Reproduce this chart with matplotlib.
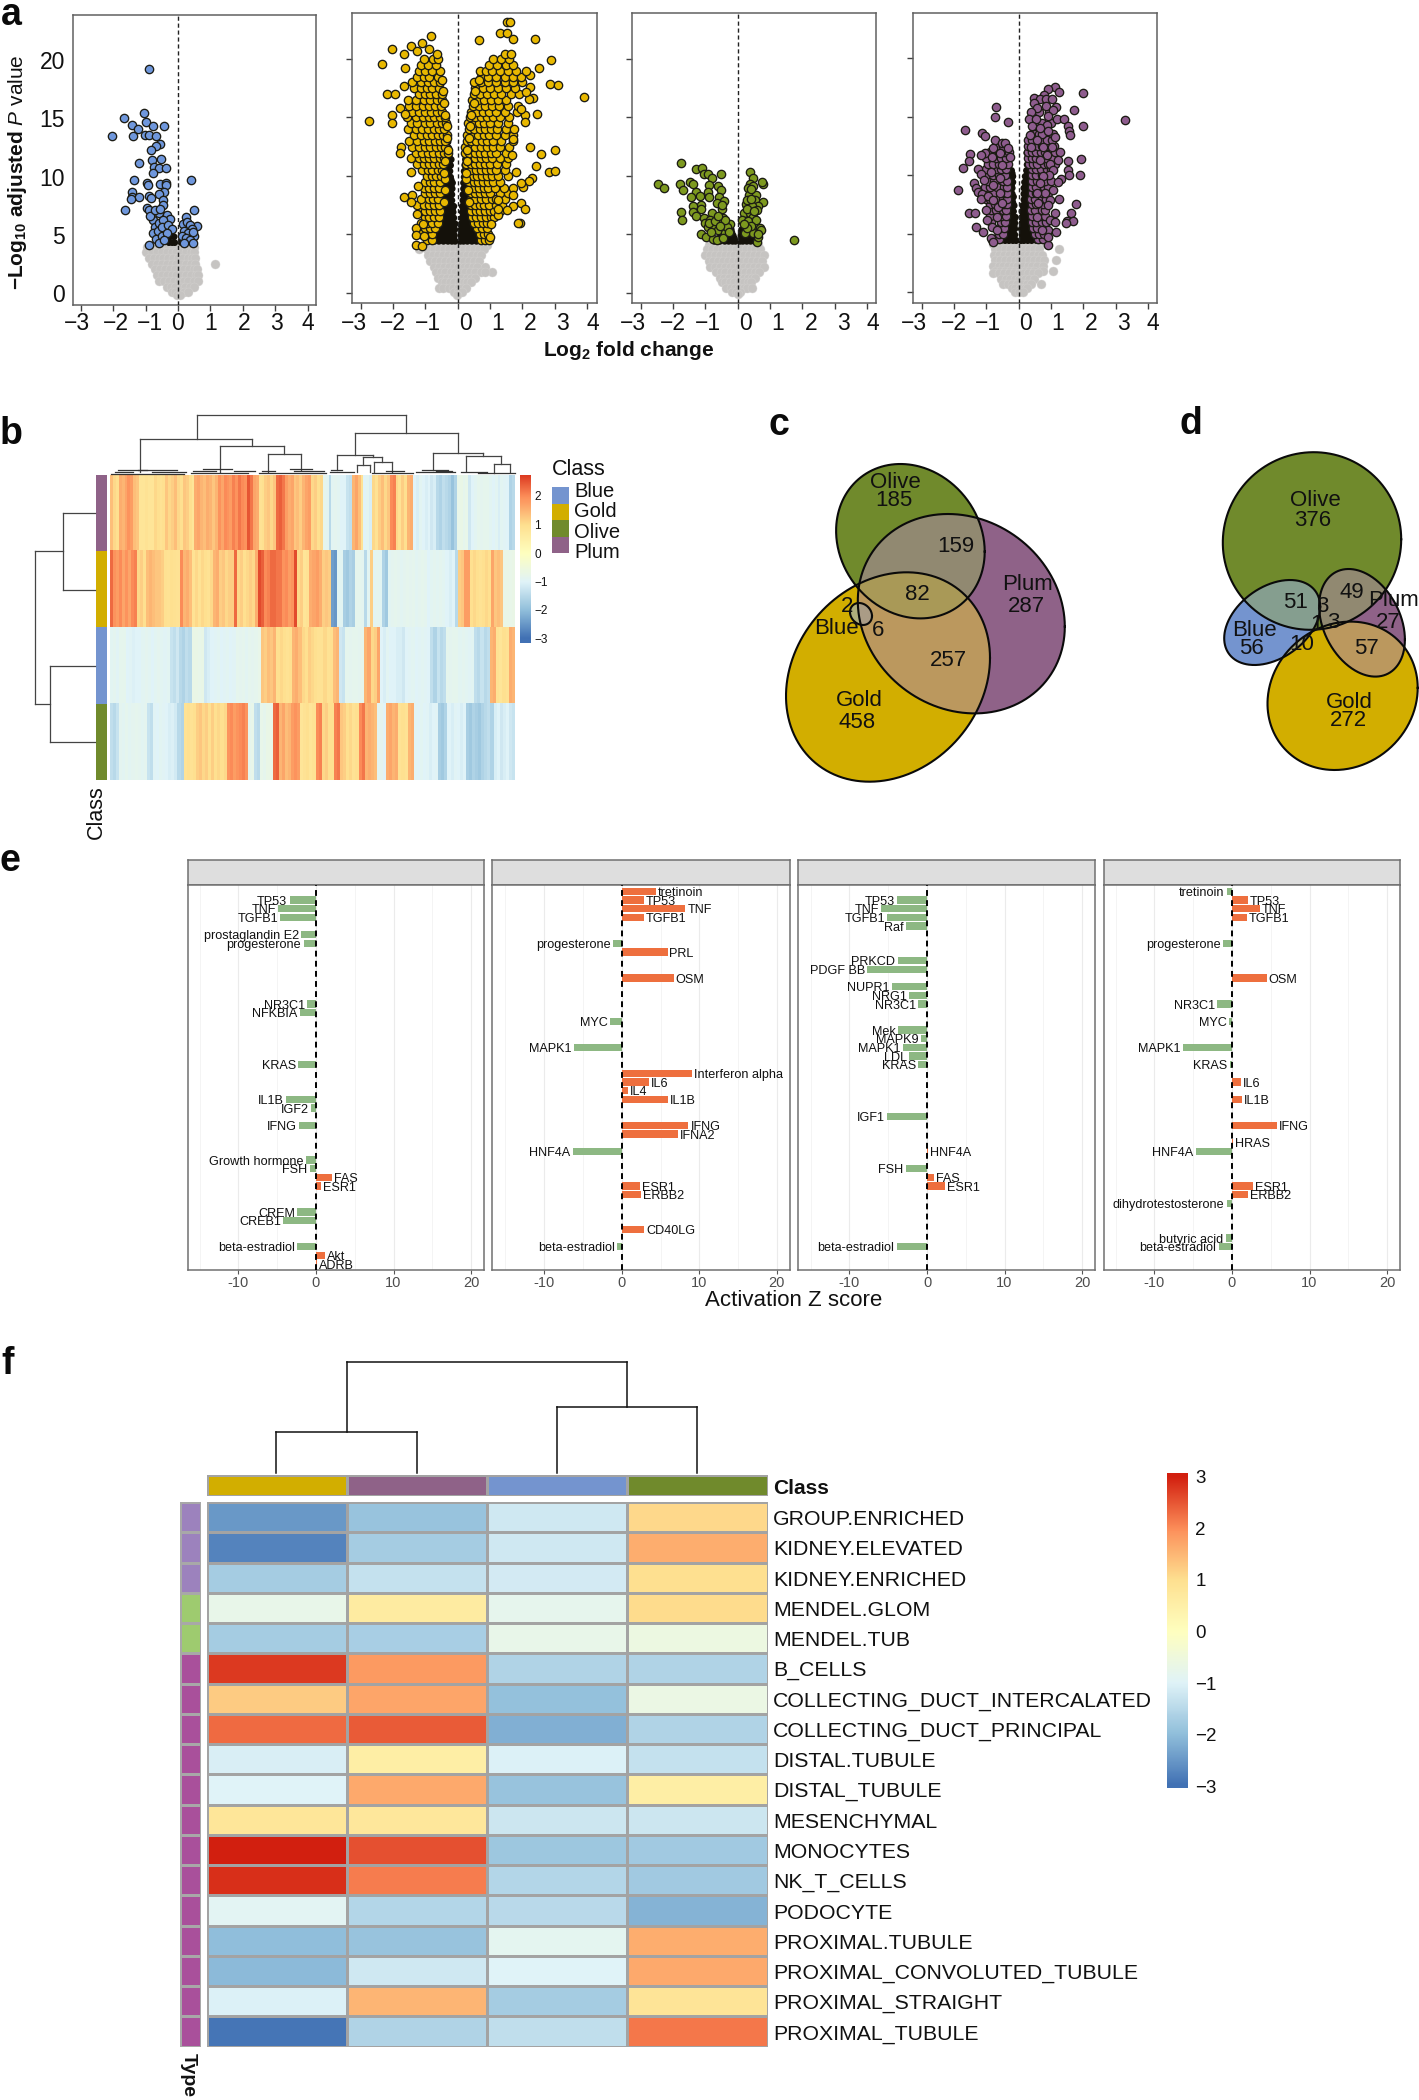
import numpy as np
import matplotlib
matplotlib.use('Agg')
import matplotlib.pyplot as plt
from matplotlib.colors import LinearSegmentedColormap, ListedColormap, to_rgb

W, H = 1419, 2100
plt.rcParams['font.family'] = ['Liberation Sans', 'DejaVu Sans']
plt.rcParams['mathtext.fontset'] = 'custom'
plt.rcParams['mathtext.rm'] = 'Liberation Sans'
plt.rcParams['mathtext.bf'] = 'Liberation Sans:bold'
plt.rcParams['mathtext.it'] = 'Liberation Sans:italic'

C_BLUE, C_GOLD, C_OLIVE, C_PLUM = '#7494cf', '#d2ae00', '#708a2c', '#8f6288'
MINUS = '\u2212'

# ---------- panel a: outlying points (log2 fold change, -log10 p) ----------
blue_pts = [(-.89,19.25),(-1.06,15.5),(-1.66,15.05),(-1.0,14.75),(-1.42,14.5),(-.76,14.4),(-.42,14.4),(-1.23,14.1),(-2.04,13.5),(-1.39,13.5),(-1.03,13.6),(-.89,13.6),(-.68,13.5),(-.55,12.8),(-.68,12.67),(-.82,12.3),(-.54,11.6),(-.79,11.5),(-1.2,11.25),(-.75,10.85),(-.58,10.75),(-.37,10.75),(-.78,10.4),(.41,9.76),(-1.37,9.8),(-.96,9.5),(-.93,9.3),(-.57,9.4),(-.37,9.5),(-.37,9.3),(-1.43,8.76),(-.44,8.76),(-1.43,8.3),(-1.2,8.33),(-1.46,8.1),(-.89,8.4),(-.82,8.2),(-.6,8.6),(-.47,8.05),(-1.64,7.2),(.5,7.2),(-.96,7.4),(-.89,7.2),(-.47,7.6),(-.76,6.3),(.24,6.55),(.6,5.8),(.48,5.0),(-.89,4.2),(-.6,6.9),
 (-.85,6.7),(-.7,7.2),(-.55,7.3),(-.35,6.8),(-.25,6.4),(-.72,5.7),(-.6,6.1),(-.45,6.3),(-.78,5.2),(-.62,5.4),(-.48,5.7),(-.3,5.9),(-.2,5.6),(-.68,4.7),(-.5,5.0),(-.35,5.2),(-.6,4.4),(-.42,4.6),(.15,6.0),(.28,6.2),(.36,5.9),(.42,5.6),(.2,5.4),(.32,5.2),(.45,5.3),(.12,5.0),(.25,4.8),(.38,4.6),(.45,4.4),(.18,4.4)]
blue_core = [(-.28,4.4),(-.18,4.4),(-.1,4.4),(-.24,4.9),(-.12,4.9),(-.18,5.4),(.1,4.4),(.18,4.5),(.14,4.9)]
blue_grey = [(4.0,[-.95,-.75,-.6,-.45,-.3,-.15,.05,.2,.35,.5]),(3.6,[-1.0,-.8,-.65,-.5,-.35,-.2,-.05,.1,.25,.4,.5]),(3.1,[-.9,-.75,-.6,-.45,-.3,-.15,0,.15,.3,.42,.52]),(2.6,[-.8,-.65,-.5,-.35,-.2,-.05,.1,.25,.4,.52,1.13]),(2.1,[-.7,-.55,-.4,-.25,-.1,.05,.2,.35,.5,.6]),(1.6,[-.65,-.5,-.35,-.2,-.05,.1,.25,.4,.55,.62]),(1.1,[-.58,-.42,-.28,-.12,.02,.18,.32,.48,.62]),(.6,[-.35,-.22,-.08,.08,.22,.38,.5]),(.2,[-.2,-.08,.05,.18,.3]),(-.1,[-.02,.06])]

gold_pts = [(1.54,23.17),(1.62,23.17),(1.32,22.2),(1.53,22.25),(1.72,21.7),(2.4,21.74),(.67,21.6),(-.82,22.0),(-1.1,21.4),(-1.44,21.1),(-2.02,20.9),(-.89,20.9),(-1.26,20.7),(-1.65,20.4),(-.65,20.4),(-2.34,19.6),(-1.62,19.2),(2.89,19.9),(2.53,19.2),(2.84,17.9),(3.09,17.8),(3.9,16.75),(-2.75,14.7),(-2.2,17.0),(-1.93,17.0),(-2.02,15.2),(-2.02,14.5),(-1.77,15.8),(-1.65,17.7),(-1.63,15.3),(-1.76,12.5),(-1.78,12.0),(-1.45,10.3),(-1.66,8.2),(-1.41,8.4),(-1.43,7.8),(-1.23,9.1),(-1.25,6.7),(-1.3,5.5),(-1.3,4.9),(-1.29,4.1),(-1.09,4.0),(-1.03,4.85),(-1.08,5.9),(2.24,12.5),(2.59,11.9),(3.0,12.2),(2.43,10.85),(2.82,10.3),(3.0,10.4),(2.31,9.85),(2.2,9.6),(2.03,9.04),(1.96,9.4),(1.71,9.0),(1.72,8.4),(1.24,7.9),(1.95,7.7),(2.09,7.2),(1.72,7.4),(1.54,7.05),(1.92,6.0),(1.87,6.0),(1.25,6.65),(1.24,7.2),(1.03,5.9),(1.0,4.75),(2.45,15.3),(2.32,16.7),(2.19,16.6),(2.24,17.6),(2.1,17.2),(2.24,18.6),(2.12,18.95),(2.08,15.2),(2.08,14.6),(1.97,15.75),(1.8,10.3),(1.67,11.8),(1.72,13.2)]
gold_body = [(4.5,[-.95,-.8,.72,.85,.98]),(5.0,[-1.15,-.95,-.78,.68,.8,.95]),(5.5,[-1.0,-.85,-.7,.6,.75,.9]),(6.0,[-1.12,-.95,-.78,-.62,.5,.62,.78,.92]),(6.5,[-1.02,-.88,-.72,-.58,.45,.58,.72,.88,1.02,1.12]),(7.0,[-1.15,-1.0,-.85,-.7,-.55,.42,.56,.7,.85,1.0,1.12,1.3]),(7.5,[-1.25,-1.05,-.9,-.72,-.58,.42,.55,.68,.82,.98,1.18,1.38]),(8.0,[-1.12,-.9,-.75,-.6,.4,.55,.72,.88,1.05,1.2,1.45]),(8.5,[-1.0,-.85,-.7,-.55,.4,.52,.68,.85,1.0,1.3,1.55]),(9.0,[-1.05,-.9,-.74,-.58,.38,.5,.65,.8,.95,1.15,1.42]),(9.5,[-1.0,-.85,-.72,-.56,.35,.5,.62,.78,.95,1.1,1.3]),(10.0,[-.95,-.8,-.68,-.52,.32,.46,.6,.75,.9,1.05,1.25,1.55]),
 (10.5,[-1.1,-.92,-.78,-.62,-.48,.28,.42,.58,.72,.88,1.02,1.2,1.45]),(11.0,[-1.25,-1.05,-.88,-.72,-.58,-.45,.25,.4,.55,.7,.85,1.0,1.22,1.5]),(11.5,[-1.45,-1.2,-1.05,-.88,-.72,-.55,-.42,.28,.4,.55,.72,.88,1.05,1.3,1.55]),(12.0,[-1.3,-1.1,-.92,-.75,-.58,-.42,-.3,.22,.36,.52,.68,.85,1.02,1.2,1.5]),(12.5,[-1.4,-1.2,-1.02,-.85,-.68,-.52,-.38,.24,.38,.55,.72,.9,1.08,1.3,1.6]),(13.0,[-1.5,-1.25,-1.05,-.88,-.7,-.55,-.4,.28,.42,.58,.75,.92,1.1,1.35,1.72]),(13.5,[-1.35,-1.15,-.95,-.78,-.62,-.45,-.34,.3,.45,.62,.8,.98,1.18,1.45,1.7]),(14.0,[-1.55,-1.3,-1.1,-.92,-.74,-.58,-.42,.34,.5,.68,.85,1.02,1.22,1.5,1.75]),(14.5,[-1.45,-1.25,-1.02,-.85,-.65,-.48,-.35,.33,.48,.65,.82,1.0,1.25,1.55]),(15.0,[-1.58,-1.3,-1.08,-.9,-.72,-.55,-.4,.38,.55,.72,.9,1.1,1.3,1.6]),
 (15.5,[-1.4,-1.2,-1.0,-.82,-.65,-.48,.42,.6,.78,.98,1.2,1.45,1.82]),(16.0,[-1.5,-1.28,-1.08,-.9,-.7,-.52,.48,.65,.85,1.05,1.28,1.55,1.85]),(16.5,[-1.55,-1.3,-1.05,-.85,-.65,-.48,.45,.62,.82,1.02,1.25,1.5]),(17.0,[-1.2,-1.0,-.85,-.68,-.5,.5,.7,.9,1.12,1.35,1.65,1.9]),(17.5,[-1.35,-1.12,-.95,-.78,-.58,.55,.78,1.0,1.25,1.5,1.78]),(18.0,[-1.4,-1.15,-.92,-.72,-.55,.5,.72,.95,1.2,1.45,1.72,2.0]),(18.5,[-1.25,-1.05,-.88,-.62,.72,.95,1.2,1.45,1.7,1.95]),(19.0,[-1.2,-1.0,-.8,-.55,.68,.88,1.05,1.3,1.55,1.8]),(19.5,[-1.15,-.92,-.68,.98,1.22,1.48,1.72]),(20.0,[-1.05,-.75,-.62,1.1,1.35,1.6]),(20.4,[1.45,1.65]),
 (7.75,[-.42,.34]),(8.75,[-.4,.32]),(9.75,[-.38,.26]),(10.25,[-.42,.25]),(11.25,[-.38,.3]),(12.25,[-.3,.3]),(13.25,[-.32,.34]),(14.25,[-.34,.38]),(15.25,[-.38,.42]),(16.25,[-.42,.5]),(17.25,[-.45,.55]),(18.25,[-.5,.65])]
gold_core = [(4.4,[-.72,-.58,-.44,-.3,-.18,-.08,.08,.18,.3,.44,.58,.72]),(4.9,[-.62,-.48,-.34,-.22,-.1,.1,.2,.32,.46,.6]),(5.4,[-.56,-.44,-.3,-.18,-.09,.1,.2,.34,.48]),(5.9,[-.52,-.4,-.28,-.16,-.08,.11,.22,.34,.46]),(6.4,[-.48,-.36,-.24,-.12,.13,.24,.36]),(6.9,[-.48,-.36,-.24,-.14,.14,.25,.38]),(7.4,[-.44,-.32,-.2,-.12,.14,.26,.36]),(7.9,[-.42,-.3,-.18,.16,.26,.36]),(8.4,[-.42,-.3,-.18,.16,.26,.34]),(8.9,[-.4,-.28,-.17,.18,.28]),(9.4,[-.36,-.24,-.16,.18,.28]),(9.9,[-.35,-.22,.2]),(10.4,[-.36,-.24,.2]),(10.9,[-.32,-.22,.22]),(11.4,[-.3,-.2,.24]),(11.9,[-.28,.28]),(12.4,[-.28]),(12.9,[-.3]),
 (4.65,[-.65,-.5,-.36,-.24,-.12,.12,.24,.38,.52,.66]),(5.15,[-.56,-.4,-.26,-.14,.13,.26,.4,.54]),(5.65,[-.5,-.36,-.22,-.12,.14,.27,.4]),(6.15,[-.44,-.3,-.18,.16,.28,.4]),(6.65,[-.42,-.3,-.18,.18,.3]),(7.15,[-.4,-.26,-.16,.18,.3]),(7.65,[-.36,-.24,.2,.32]),(8.15,[-.36,-.24,.2,.3]),(8.65,[-.34,-.22,.22,.3]),(9.15,[-.3,-.2,.22]),(9.65,[-.3,-.2,.24]),(10.15,[-.3,.24]),(10.65,[-.28,.26]),(11.15,[-.26]),(11.65,[-.26])]
gold_grey = [(4.1,[-.75,-.6,-.45,-.3,-.15,.02,.18,.32,.48,.62,.78,.92]),(3.7,[-1.2,-.95,-.72,-.58,-.42,-.28,-.12,.05,.2,.35,.5,.65,.8]),(3.2,[-.92,-.75,-.6,-.45,-.3,-.15,0,.15,.3,.45,.6,.72]),(2.7,[-.85,-.7,-.55,-.4,-.25,-.1,.05,.2,.35,.5,.65]),(2.2,[-.72,-.58,-.42,-.28,-.12,.02,.18,.32,.48,.6,.85]),(1.8,[-.68,-.52,-.38,-.22,-.08,.08,.22,.38,.52,.72,1.05,.85]),(1.3,[-.62,-.48,-.32,-.18,-.02,.12,.28,.42,.52]),(.9,[-.5,-.38,-.25,-.1,.05,.2,.3,.42]),(.4,[-.58,-.45,-.28,-.15,0,.12,.25]),(.1,[-.1,0,.12]),(-.2,[-.02])]

olive_pts = [(-1.74,11.1),(-1.3,10.6),(-1.09,10.65),(-1.05,10.2),(-.91,10.2),(-.52,10.2),(-2.46,9.3),(-2.27,9.0),(-1.78,9.3),(-1.48,9.45),(-1.37,9.3),(-.78,9.8),(-.89,9.2),(-1.68,8.8),(-1.29,8.65),(-.62,9.15),(-.53,8.8),(-1.43,8.2),(-1.16,8.3),(-.91,8.65),(-.89,8.2),(-.58,8.2),(-.42,7.85),(-.65,7.7),(-1.13,7.5),(-1.39,7.4),(-1.12,7.15),(-1.37,6.95),(-1.3,6.6),(-1.74,6.9),(-1.72,6.25),(-.78,6.8),(-.49,7.15),(-1.03,6.4),(-1.01,6.0),(-.86,6.2),(-.44,6.4),(-.93,5.65),(-.73,5.5),(-.24,5.85),(-1.13,5.0),(-.99,4.8),(-.77,4.6),(-.49,6.0),(-.6,5.4),(-.39,5.1),(-.34,5.65),(-.39,6.2),(-.65,4.5),(-.44,4.65),(-.9,6.0),(-.7,6.1),(-.55,5.7),(-.6,6.6),(-.82,5.2),(-.5,7.5),(-.28,5.2),
 (.38,10.35),(.48,9.8),(.77,9.3),(.74,9.45),(.38,9.3),(.31,8.95),(.48,9.1),(.35,8.4),(.56,8.4),(.54,7.95),(.79,7.8),(.25,7.6),(.64,7.45),(.43,7.4),(.59,7.1),(.18,6.8),(.38,6.8),(.48,6.5),(.14,6.25),(.33,6.1),(.54,5.65),(.69,5.55),(.72,5.35),(.48,5.1),(.61,4.35),(.23,5.1),(.64,4.8),(1.75,4.5),(.42,8.9),(.3,7.9),(.42,8.0),(.28,7.2),(.5,7.0),(.58,6.2),(.62,5.0),(.42,5.7),(.3,5.5),(.2,5.9)]
olive_core = [(4.4,[-.72,-.55,-.4,-.28,-.16,-.07,.07,.16,.28,.4,.52]),(4.9,[-.5,-.38,-.26,-.14,.1,.2,.32,.44]),(5.4,[-.42,-.3,-.2,.12,.22,.34]),(5.9,[-.34,.16,.26,.36]),(6.4,[.2,.3]),(6.9,[.22,.3]),(7.4,[.25]),(4.65,[-.6,-.45,-.32,-.2,-.1,.12,.25,.38,.5]),(5.15,[-.44,-.3,-.18,.15,.28,.4]),(5.65,[-.36,-.24,.2,.32])]
olive_grey = [(4.1,[-.9,-.75,-.6,-.45,-.3,-.15,.02,.18,.32,.48,.62]),(3.7,[-.95,-.8,-.65,-.5,-.35,-.2,-.05,.1,.25,.4,.55,.7]),(3.2,[-1.02,-.85,-.7,-.55,-.4,-.25,-.1,.05,.2,.35,.5,.65,.8]),(2.7,[-.9,-.75,-.6,-.45,-.3,-.15,0,.15,.3,.45,.6,.75]),(2.2,[-.85,-.7,-.55,-.4,-.25,-.1,.05,.2,.35,.5,.65,.82]),(1.8,[-.68,-.52,-.38,-.22,-.08,.08,.22,.38,.52,.65]),(1.3,[-.55,-.42,-.28,-.12,.02,.18,.32,.45,.55]),(.9,[-.5,-.38,-.25,-.1,.05,.2,.32,.42]),(.4,[-.35,-.22,-.08,.05,.2,.3,.45]),(.1,[-.18,-.05,.08]),(-.15,[0])]

plum_pts = [(3.29,14.7),(2.0,17.0),(1.72,15.6),(1.12,17.55),(1.25,17.1),(.92,17.4),(.79,16.9),(.48,16.6),(.66,16.5),(.85,16.55),(1.02,16.5),(.48,16.2),(.58,15.75),(.85,15.9),(1.15,15.8),(.38,15.4),(1.07,15.55),(.92,15.1),(.32,14.85),(.53,14.85),(1.18,14.8),(1.41,14.8),(1.54,14.25),(1.99,14.2),(1.55,13.8),(1.59,13.45),(.4,14.2),(.87,14.3),(.66,14.0),(.35,13.45),(.92,13.75),(1.13,13.25),(.56,13.0),(1.02,12.45),(1.28,12.0),(.38,12.45),(.76,12.45),(.87,11.75),(1.21,11.3),(1.54,11.2),(1.94,11.35),(.97,11.0),(.66,11.3),(1.54,10.45),(1.07,10.45),(1.56,10.0),(1.9,10.0),(.95,10.0),(1.31,9.7),(1.23,9.4),(.76,9.9),(.66,9.3),(1.07,8.7),(.81,8.45),(1.24,8.0),(.97,7.9),(1.78,7.5),(1.61,6.75),(.9,7.45),(1.48,6.1),(1.67,6.05),(1.46,5.95),(1.12,6.75),(.97,6.15),(1.12,6.0),(.9,5.3),(1.15,5.1),(.92,4.0),(.92,4.75),(.71,5.3),(.56,6.45),(.61,7.6),(.56,8.45),
 (-.69,15.8),(-.73,15.0),(-.32,14.55),(-1.66,13.85),(-1.15,13.65),(-1.04,13.35),(-.53,12.75),(-.42,12.75),(-.78,12.3),(-.32,12.3),(-1.5,11.8),(-1.04,11.9),(-1.16,11.7),(-1.54,11.2),(-1.73,10.65),(-.84,11.6),(-.58,11.9),(-.27,11.6),(-1.25,10.55),(-1.16,10.1),(-.86,10.3),(-.53,10.9),(-1.07,9.6),(-1.39,9.35),(-1.33,8.9),(-1.87,8.7),(-1.27,8.6),(-1.14,8.4),(-1.16,8.0),(-.94,8.2),(-.78,9.2),(-.58,9.75),(-1.01,7.0),(-1.53,6.8),(-1.34,6.8),(-.99,6.2),(-1.31,5.6),(-1.1,5.1),(-.86,4.6),(-.81,4.3),(-.63,7.3),(-.78,7.9),(-.84,5.6),(-.68,5.3),(-.68,6.45),(-.58,8.45),(-.53,7.6)]
plum_body = [(4.5,[-.72,-.6,.6,.74]),(5.0,[-.62,-.5,.5,.62,.78]),(5.5,[-.6,-.45,.44,.58,.8]),(6.0,[-.85,-.55,-.42,.42,.55,.72,.85]),(6.5,[-.9,-.55,-.4,.4,.7,.82]),(7.0,[-.85,-.7,-.5,-.38,.38,.5,.72,.8]),(7.5,[-.9,-.72,-.45,-.36,.42,.52,.74]),(8.0,[-1.0,-.88,-.65,-.48,-.35,.38,.5,.72,.85]),(8.5,[-.95,-.78,-.45,-.35,.4,.52,.72,.92]),(9.0,[-1.05,-.88,-.68,-.45,-.35,.42,.55,.78,.92]),(9.5,[-.95,-.75,-.48,-.36,.42,.58,.82,1.0]),(10.0,[-1.0,-.78,-.62,-.42,.4,.55,.72,.85]),(10.5,[-1.02,-.7,-.55,-.38,.4,.52,.68,.88,1.0]),(11.0,[-.95,-.78,-.62,-.45,-.32,.32,.44,.58,.78,.9,1.12]),(11.5,[-1.0,-.7,-.55,-.4,.3,.42,.55,.7,.85,1.05]),(12.0,[-.9,-.72,-.6,-.45,-.3,.3,.42,.55,.68,.82,1.12]),(12.5,[-.62,-.48,.28,.45,.6,.72,.88,1.1]),(13.0,[-.72,.3,.42,.62,.75,.88,1.02]),(13.5,[.42,.5,.62,.72,1.05]),(14.5,[.5,.72,1.0]),(15.4,[.62,.95])]
plum_core = [(4.4,[-.85,-.7,-.55,-.42,-.3,-.18,-.08,.07,.16,.28,.4,.55,.7,.82]),(4.9,[-.62,-.48,-.36,-.24,-.12,.1,.2,.32,.44,.58]),(5.4,[-.45,-.34,-.22,-.12,.08,.18,.3,.42]),(5.9,[-.42,-.32,-.22,-.12,.1,.2,.32]),(6.4,[-.4,-.3,-.2,-.1,.1,.2,.32]),(6.9,[-.36,-.26,-.16,.1,.2,.32]),(7.4,[-.32,-.24,-.14,.12,.22,.32]),(7.9,[-.3,-.2,.16,.26,.34]),(8.4,[-.3,-.2,.16,.26,.34]),(8.9,[-.28,-.2,.16,.26,.34]),(9.4,[-.27,-.18,.18,.28]),(9.9,[-.26,-.18,.2,.3]),(10.4,[-.22,.24,.32]),(10.9,[.26,.34]),(11.4,[.3]),(11.9,[.25,.35]),(12.4,[.3]),(12.9,[.32]),
 (4.65,[-.7,-.55,-.4,-.26,-.14,.12,.24,.38,.52,.68]),(5.15,[-.5,-.36,-.22,.12,.26,.4]),(5.65,[-.38,-.26,-.14,.14,.26,.36]),(6.15,[-.36,-.24,-.14,.14,.26]),(6.65,[-.32,-.2,.14,.26]),(7.15,[-.3,-.2,.16,.28]),(7.65,[-.28,-.18,.2,.3]),(8.15,[-.26,-.16,.2,.3]),(8.65,[-.24,.2,.3]),(9.15,[-.22,.22,.3]),(9.65,[-.22,.24]),(10.15,[-.2,.28])]
plum_grey = [(4.1,[-.78,-.62,-.48,-.32,-.18,-.04,.12,.28,.42,.58,.7]),(3.7,[-.72,-.58,-.42,-.28,-.12,.02,.18,.32,.48,.62,1.25]),(3.2,[-.75,-.6,-.45,-.3,-.15,0,.15,.3,.45,.6,.72]),(2.7,[-.72,-.58,-.42,-.28,-.12,.02,.18,.32,.48,.62,.78,1.15]),(2.2,[-.78,-.62,-.48,-.32,-.18,-.04,.12,.28,.42,.58,.75]),(1.8,[-.72,-.58,-.42,-.28,-.12,.02,.18,.32,.48,.68,.75,1.05]),(1.6,[-.8,-.6,-.45,-.3,-.15,0,.15,.3,.45,.6]),(1.1,[-.55,-.4,-.28,-.12,.02,.18,.32,.48]),(.7,[-.48,-.32,-.2,-.05,.1,.25,.38,.7]),(.3,[-.22,-.1,.05,.18,.25]),(0,[-.1,.02,.12])]

# ---------- panel b: 4 classes x 135 gene columns ----------
heat_plum = [1.4,1.1,1.0,1.6,1.5,1.7,1.9,1.8,1.4,1.3,.8,.8,.9,.8,.8,1.1,1.0,.9,1.0,1.3,1.1,1.2,1.4,1.1,1.0,1.3,1.2,1.0,.8,1.6,1.7,1.5,1.4,1.6,1.5,1.3,1.5,1.9,1.7,2.0,1.9,1.8,2.1,1.9,2.2,2.0,1.9,2.5,2.2,1.7,1.6,.9,1.0,1.2,1.3,1.1,1.3,2.3,2.4,2.2,1.8,1.6,1.7,1.3,1.4,1.2,1.5,
 1.7,1.8,1.1,1.2,1.0,1.1,-.8,-.9,-1.5,-.9,-.85,-.9,-1.0,-1.0,-1.3,-1.4,1.5,1.7,1.4,.9,-1.0,-.9,-1.1,1.1,.9,1.2,1.4,1.1,1.3,2.0,2.1,1.1,.9,1.2,1.0,1.5,1.6,-1.0,-1.1,-.9,-1.0,-1.1,-1.0,-1.2,-1.1,-1.5,-1.6,-1.4,-1.5,-1.6,-1.9,-1.6,-.75,-.7,-.8,-.75,-1.2,-1.0,-.9,-.8,-.85,-.8,-.8,-.9,-1.0,-.9,-1.1,-.9,-.95,-1.0,-1.6,-1.5]
heat_gold = [2.3,1.9,1.8,2.0,1.7,1.9,1.7,2.0,2.1,1.1,1.2,1.0,1.4,1.5,1.4,1.3,1.3,1.2,.95,.9,1.0,.95,.9,2.0,1.5,1.6,1.4,.9,1.1,.9,1.1,1.0,.9,1.1,1.5,1.6,1.2,1.3,1.1,1.2,1.2,2.3,1.1,1.2,1.0,1.1,1.2,1.1,1.6,2.6,2.4,2.0,2.1,2.3,2.3,2.2,2.2,1.9,2.0,1.8,1.9,2.6,1.1,1.2,.8,.9,1.6,
 1.7,1.8,1.6,1.2,1.3,1.2,-2.4,-2.5,-.9,-.9,-1.7,-1.8,-1.6,-1.7,-.8,-.8,-.85,-1.5,-.9,1.2,-.9,-.85,-.9,-1.6,-1.8,-.9,-.85,-.8,-.85,-.9,-.85,-.8,-.85,-.8,-.9,-.85,-.8,-.85,-1.0,-.9,-.85,-.9,-.85,-.9,-1.0,-1.1,-1.0,-1.5,1.2,1.3,1.8,1.8,1.0,1.1,1.0,.9,1.0,1.1,1.0,1.7,1.3,1.4,1.3,-.7,-.7,-.75,-.7]
heat_blue = [-.9,-.85,-.95,-.8,-.8,-1.0,-.95,-1.05,-1.0,-1.0,-.9,-.85,-.9,-1.0,-.9,-.85,-.9,-.95,-.9,-1.3,-1.4,-1.2,-1.5,-1.6,-1.4,-1.5,-.7,-.7,-.75,-.7,-1.2,-1.1,-1.0,-.95,-.9,-1.0,-.95,-.9,-1.0,-.95,-.8,-.85,-.8,-.9,-.8,-.85,-.8,-.75,1.3,1.2,1.4,1.3,1.5,1.0,1.1,1.0,.9,1.0,1.5,1.6,1.4,1.1,1.0,1.2,1.1,1.0,.9,
 .9,1.1,.9,1.0,1.4,1.5,-1.2,-1.3,-.8,-.85,-.8,-.8,-.85,-.8,1.5,1.7,1.1,1.2,1.7,-1.0,-1.1,-.9,-1.0,-1.0,-1.1,-1.1,-1.2,-1.0,-.95,-.9,-1.0,-.95,-.9,-.95,-1.0,-1.4,-1.6,-1.3,-1.5,-1.4,-.8,-.85,-.8,-.8,-.9,-.85,-.9,-.95,-.9,-1.4,-1.5,-1.3,-1.5,-1.4,1.5,1.6,.9,.8,1.0,.9,1.6,1.5]
heat_olive = [-1.4,-1.5,-1.3,-.85,-.9,-.8,-.9,-.85,-.8,-.85,-.9,-.85,-1.3,-1.4,-.95,-1.0,-.9,-.95,-1.0,-1.1,-1.05,-1.15,-1.5,-1.6,.9,1.0,.9,1.0,1.2,1.3,1.1,1.2,1.0,1.2,1.0,1.1,1.0,1.1,1.9,2.0,1.8,1.9,2.0,2.1,1.9,-.8,-.75,-1.4,-1.5,-.75,-.8,-.7,-.75,2.3,2.4,1.5,1.7,1.4,1.5,1.8,1.9,1.8,.8,.9,1.0,.8,.9,
 2.0,2.1,1.1,1.2,1.0,1.0,2.1,2.2,1.3,1.2,1.0,1.1,.9,1.0,2.0,2.2,1.5,1.6,1.5,1.4,-.9,-.85,-1.0,1.6,1.7,1.5,1.6,.9,1.0,.9,1.5,1.6,-.95,-1.0,-.9,-1.0,-.95,-1.1,-1.0,-.95,-1.7,-1.8,-1.6,-1.0,-1.1,-.95,-1.0,-1.1,-1.0,-1.7,-1.8,-1.6,-1.7,-1.8,-1.6,-1.5,-1.4,-1.6,-1.1,-1.0,-1.2,-1.1,-1.0,-1.2,-1.3]
heat_rows = [heat_plum, heat_gold, heat_blue, heat_olive]
heat_row_colors = [C_PLUM, C_GOLD, C_BLUE, C_OLIVE]
legend_classes = ['Blue', 'Gold', 'Olive', 'Plum']
legend_colors = [C_BLUE, C_GOLD, C_OLIVE, C_PLUM]

# dendrogram of panel b, as reference-crop units (x1, y1, x2, y2)
dend_top = [(428,76,885,76),(428,76,428,147),(885,76,885,130),(305,147,549,147),(305,147,305,245),(549,147,549,167),(480,167,619,167),(480,167,480,245),(619,167,619,191),(583,191,656,191),(583,191,583,245),(656,191,656,240),
 (773,130,998,130),(773,130,773,195),(998,130,998,190),(733,195,813,195),(733,195,733,240),(813,195,813,202),(791,202,833,202),(791,202,791,225),(833,202,833,215),(778,225,806,225),(778,225,778,245),(806,225,806,245),(815,215,853,215),(815,215,815,245),(853,215,853,245),
 (943,190,1053,190),(943,190,943,240),(1053,190,1053,197),(1015,197,1092,197),(1015,197,1015,243),(1092,197,1092,222),(1075,222,1110,222),(1075,222,1075,245),(1110,222,1110,245)]
dend_leaf = [(242,400,251),(258,320,241),(300,385,240),(250,290,246),(330,405,247),(415,540,248),(442,505,237),(420,470,244),(510,555,243),(565,710,249),(570,600,243),(632,680,238),(640,705,244),(718,770,247),(722,745,240),(810,900,248),(840,880,244),(905,990,247),(920,975,240),(950,985,244),(1005,1060,246),(1040,1075,249),(1075,1122,250)]
dend_left = [(77,482,77,942),(77,482,137,482),(77,942,108,942),(137,368,137,599),(137,368,207,368),(137,599,207,599),(108,827,108,1056),(108,827,207,827),(108,1056,207,1056)]

# ---------- panels c, d: counts ----------
venn_c_labels = [('Olive',895,480),('185',894,498),('159',956,544),('Plum',1028,582),('287',1026,604),('82',917,592),('2',847,604),('Blue',836,627),('6',878,628),('257',948,658),('Gold',859,698),('458',857,720)]
venn_d_labels = [('Olive',1315,498),('376',1313,519),('51',1296,600),('3',1322,605),('49',1352,591),('Plum',1394,599),('27',1388,621),('3',1333,620),('1',1316,622),('Blue',1254,628),('56',1251,647),('10',1302,642),('57',1366,646),('Gold',1349,700),('272',1348,719)]

# ---------- panel e ----------
reg_names = ['tretinoin','TP53','TNF','TGFB1','Raf','prostaglandin E2','progesterone','PRL','PRKCD','PDGF BB','OSM','NUPR1','NRG1','NR3C1','NFKBIA','MYC','Mek','MAPK9','MAPK1','LDL','KRAS','Interferon alpha','IL6','IL4','IL1B','IGF2','IGF1','IFNG','IFNA2','HRAS','HNF4A','Growth hormone','FSH','FAS','ESR1','ERBB2','dihydrotestosterone','CREM','CREB1','CD40LG','butyric acid','beta-estradiol','Akt','ADRB']
z_panel1 = {'TP53':-3.4,'TNF':-4.9,'TGFB1':-4.6,'prostaglandin E2':-1.9,'progesterone':-1.6,'NR3C1':-1.1,'NFKBIA':-2.1,'KRAS':-2.3,'IL1B':-3.9,'IGF2':-.6,'IFNG':-2.2,'Growth hormone':-1.3,'FSH':-.8,'FAS':2.1,'ESR1':.7,'CREM':-2.4,'CREB1':-4.2,'beta-estradiol':-2.4,'Akt':1.1,'ADRB':.1}
z_panel2 = {'tretinoin':4.4,'TP53':2.9,'TNF':8.2,'TGFB1':2.8,'progesterone':-1.1,'PRL':5.9,'OSM':6.7,'MYC':-1.5,'MAPK1':-6.2,'Interferon alpha':9.0,'IL6':3.5,'IL4':.8,'IL1B':6.0,'IFNG':8.6,'IFNA2':7.2,'HNF4A':-6.3,'ESR1':2.3,'ERBB2':2.5,'CD40LG':2.9,'beta-estradiol':-.6}
z_panel3 = {'TP53':-3.9,'TNF':-5.9,'TGFB1':-5.1,'Raf':-2.7,'PRKCD':-3.8,'PDGF BB':-7.7,'NUPR1':-4.5,'NRG1':-2.3,'NR3C1':-1.1,'Mek':-3.7,'MAPK9':-.8,'MAPK1':-3.1,'LDL':-2.3,'KRAS':-1.1,'IGF1':-5.1,'HNF4A':.1,'FSH':-2.7,'FAS':.9,'ESR1':2.3,'beta-estradiol':-3.9}
z_panel4 = {'tretinoin':-.7,'TP53':2.1,'TNF':3.6,'TGFB1':1.9,'progesterone':-1.1,'OSM':4.5,'NR3C1':-1.9,'MYC':-.4,'MAPK1':-6.3,'KRAS':-.3,'IL6':1.1,'IL1B':1.3,'IFNG':5.8,'HRAS':.1,'HNF4A':-4.7,'ESR1':2.7,'ERBB2':2.1,'dihydrotestosterone':-.7,'butyric acid':-.8,'beta-estradiol':-1.7}

# ---------- panel f ----------
enrich_rows = ['GROUP.ENRICHED','KIDNEY.ELEVATED','KIDNEY.ENRICHED','MENDEL.GLOM','MENDEL.TUB','B_CELLS','COLLECTING_DUCT_INTERCALATED','COLLECTING_DUCT_PRINCIPAL','DISTAL.TUBULE','DISTAL_TUBULE','MESENCHYMAL','MONOCYTES','NK_T_CELLS','PODOCYTE','PROXIMAL.TUBULE','PROXIMAL_CONVOLUTED_TUBULE','PROXIMAL_STRAIGHT','PROXIMAL_TUBULE']
enrich_gold  = [-2.5,-2.75,-1.75,-.75,-1.75,2.75,1.25,2.3,-1.1,-1.0,.8,3.0,2.85,-.9,-2.0,-2.05,-1.05,-2.95]
enrich_plum  = [-1.9,-1.75,-1.35,.65,-1.7,1.85,1.7,2.45,.55,1.65,.75,2.55,2.15,-1.55,-1.9,-1.2,1.5,-1.6]
enrich_blue  = [-1.2,-1.2,-1.15,-.8,-.75,-1.6,-1.95,-2.2,-1.05,-1.9,-1.25,-1.85,-1.55,-1.5,-.85,-1.0,-1.75,-1.4]
enrich_olive = [1.1,1.6,1.0,1.05,-.6,-1.6,-.65,-1.6,-1.35,.55,-1.25,-1.8,-1.8,-2.15,1.6,1.65,.85,2.2]
enrich_classes = [C_GOLD, C_PLUM, C_BLUE, C_OLIVE]
type_groups = [0,0,0,1,1]+[2]*13
type_colors = ['#9c82bd','#9ecb6f','#a9509b']
dend_f = [(346.6,1362.4,626.5,1362.4),(346.6,1362.4,346.6,1432.3),(626.5,1362.4,626.5,1407.4),(276.4,1432.3,416.8,1432.3),(276.4,1432.3,276.4,1473.4),(416.8,1432.3,416.8,1473.4),(557,1407.4,696.7,1407.4),(557,1407.4,557,1473.4),(696.7,1407.4,696.7,1473.4)]

# ---------- figure ----------
fig = plt.figure(figsize=(W/100, H/100), dpi=100, facecolor='white')

def box(l, t, r, b, **kw):
    return fig.add_axes([l/W, 1-b/H, (r-l)/W, (b-t)/H], **kw)

ov = fig.add_axes([0, 0, 1, 1], zorder=20)
ov.patch.set_alpha(0)
ov.axis('off')

def flat(levels):
    xs, ys = [], []
    for y, vals in levels:
        xs += list(vals); ys += [y]*len(vals)
    return xs, ys

def volcano(l, t, r, b, x0, y0, unit, color, grey, body, pts, core, tick_px, first=False):
    ax = box(l, t, r, b)
    yu = 11.68
    ax.set_xlim((l-x0)/unit, (r-x0)/unit)
    ax.set_ylim((y0-b)/yu, (y0-t)/yu)
    gx, gy = flat(grey)
    ax.scatter(gx, gy, s=42, c='#c6c4c2', edgecolors='#d4d2d0', linewidths=.3, zorder=2)
    if core and isinstance(core[0][1], list):
        cx, cy = flat(core)
    else:
        cx = [p[0] for p in core]; cy = [p[1] for p in core]
    ax.scatter(cx, cy, s=24, c='#14110a', edgecolors='none', zorder=3)
    bx, by = flat(body)
    ax.scatter(bx, by, s=36, c=color, edgecolors='#1c1c14', linewidths=0.95, zorder=4)
    px = [p[0] for p in pts]; py = [p[1] for p in pts]
    ax.scatter(px, py, s=36, c=color, edgecolors='#1c1c14', linewidths=0.95, zorder=4)
    ax.axvline(0, color='#222222', lw=1.0, ls=(0, (3, 2)), zorder=5)
    for s in ax.spines.values():
        s.set_color('#606060'); s.set_linewidth(1.1)
    ax.set_xticks(range(-3, 5)); ax.set_xticklabels([])
    ax.set_yticks([0, 5, 10, 15, 20]); ax.set_yticklabels([])
    ax.tick_params(axis='x', length=4, width=1.0, color='#404040')
    ax.tick_params(axis='y', length=0 if first else 4, width=1.0, color='#404040')
    labels = [MINUS+'3', MINUS+'2', MINUS+'1', '0', '1', '2', '3', '4']
    for lab, p in zip(labels, tick_px):
        ov.text(p, 324, lab, ha='center', va='center', fontsize=16.5, color='#111111')
    return ax

volcano(73, 14.7, 316, 304.7, 178, 294, 32.4, '#6f97dc', blue_grey, [], blue_pts, blue_core, [77,116,150,178,211,244,276,308], first=True)
volcano(352.3, 13.3, 596.7, 303.3, 457.7, 292.7, 32.33, '#e8b800', gold_grey, gold_body, gold_pts, gold_core, [353.5,392.6,428,465,498,530,562,593])
volcano(631.7, 13.3, 876, 303.3, 737.7, 292.7, 32.33, '#7d991f', olive_grey, [], olive_pts, olive_core, [633,673,708,745,778,811,843,873])
volcano(913, 12.7, 1157, 303, 1018.7, 292, 32.33, '#8e5c8e', plum_grey, plum_body, plum_pts, plum_core, [914,954,988,1025,1058,1091,1123,1153])

for v, yp in zip([0, 5, 10, 15, 20], [294, 235.7, 177, 118.7, 60.3]):
    ov.text(65, yp+2, str(v), ha='right', va='center', fontsize=16.5, color='#111111')
ov.text(18, 172, r'$\mathbf{-Log_{10}\ adjusted}\ \mathit{P}\ \mathrm{value}$', rotation=90, ha='center', va='center', fontsize=15, color='#111111')
ov.text(629, 351, r'$\mathbf{Log_{2}\ fold\ change}$', ha='center', va='center', fontsize=15, color='#111111')

# palette
hm_cmap = LinearSegmentedColormap.from_list('rb', ['#4171b4', '#91bfdb', '#e0f3f8', '#ffffbf', '#fee090', '#fc8d59', '#d21f0f'])

# panel b
axb = box(110, 474.7, 515, 780)
axb.set_xlim(0, 1); axb.set_ylim(4, 0); axb.axis('off')
for i, row in enumerate(heat_rows):
    axb.imshow(np.array(row)[None, :], cmap=hm_cmap, vmin=-3, vmax=3, extent=(0, 1, i+1, i), aspect='auto', interpolation='nearest')
axb.set_xlim(0, 1); axb.set_ylim(4, 0)
for i, c in enumerate(heat_row_colors):
    y0 = 474.7 + 76.3*i
    a = box(95.5, y0, 106.5, y0+76.3); a.set_facecolor(c); a.set_xticks([]); a.set_yticks([])
    for s in a.spines.values():
        s.set_visible(False)
def zb(x, y):
    return x/2.178, 390+y/3
for x1, y1, x2, y2 in dend_top + dend_left:
    a, b = zb(x1, y1); c, d = zb(x2, y2)
    ov.plot([a, c], [b, d], color='#444444', lw=0.9, solid_capstyle='projecting')
for x1, x2, y in dend_leaf:
    a, b = zb(x1, y); c, d = zb(x2, y)
    ov.plot([a, c], [b, d], color='#333333', lw=0.9)
ov.text(96.4, 811.7, 'Class', rotation=90, ha='center', va='center', fontsize=15.5, color='#111111')
ov.text(552, 469.5, 'Class', ha='left', va='center', fontsize=15.5, color='#111111')
for i, (n, c) in enumerate(zip(legend_classes, legend_colors)):
    y0 = 487.3 + 16.5*i
    lg = box(552.3, y0, 569.3, y0+16.5); lg.set_facecolor(c); lg.set_xticks([]); lg.set_yticks([])
    for s in lg.spines.values():
        s.set_visible(False)
    ov.text(574, 491.7+20.2*i, n, ha='left', va='center', fontsize=14.5, color='#111111')
cb = box(520, 474.7, 531, 643.3)
grad = np.linspace(2.78, -3.14, 256)[:, None]
cb.imshow(grad, cmap=hm_cmap, vmin=-3, vmax=3, aspect='auto', extent=(0, 1, -3.14, 2.78))
cb.axis('off')
for v, lab in zip([2, 1, 0, -1, -2, -3], ['2', '1', '0', MINUS+'1', MINUS+'2', MINUS+'3']):
    ov.text(534.5, 640 - (v+3)*28.5, lab, ha='left', va='center', fontsize=8.5, color='#111111')

# panels c, d
def ell_points(cx, cy, w, h, top_dx, n=400):
    c = -top_dx*h
    S = np.array([[w*w, c], [c, h*h]])
    L = np.linalg.cholesky(S)
    t = np.linspace(0, 2*np.pi, n)
    p = L @ np.vstack([np.cos(t), np.sin(t)])
    return p[0]+cx, p[1]+cy, np.linalg.inv(S)

def venn(x0, x1, y0, y1, ells):
    xx, yy = np.meshgrid(np.arange(x0, x1)+.5, np.arange(y0, y1)+.5)
    inside, cols = [], []
    for (cx, cy, w, h, dx, col) in ells:
        _, _, Si = ell_points(cx, cy, w, h, dx)
        dxx, dyy = xx-cx, yy-cy
        inside.append(Si[0,0]*dxx*dxx + 2*Si[0,1]*dxx*dyy + Si[1,1]*dyy*dyy <= 1)
        cols.append(np.array(to_rgb(col)))
    inside = np.array(inside)
    cnt = inside.sum(0)
    rgb = sum(inside[i][..., None]*cols[i] for i in range(len(ells)))/np.maximum(cnt, 1)[..., None]
    mix = np.where(cnt > 1, .14, 0)[..., None]
    rgb = rgb*(1-mix) + mix
    rgba = np.dstack([rgb, (cnt > 0).astype(float)])
    ov.imshow(rgba, extent=(x0, x1, y1, y0), origin='upper', aspect='auto', interpolation='nearest', zorder=1)
    for (cx, cy, w, h, dx, col) in ells:
        ex, ey, _ = ell_points(cx, cy, w, h, dx)
        ov.plot(ex, ey, color='#0a0a0a', lw=1.5, zorder=2)

venn(770, 1080, 450, 795, [(910.4,541.2,74.3,77.2,-10,C_OLIVE),(961.3,613.7,103.5,99.7,-13.4,C_PLUM),(888,677,102,104.7,18.6,C_GOLD),(861,614,11,11,-2,C_BLUE)])
venn(1210, 1419, 445, 780, [(1312,541,89.2,88.8,1.7,C_OLIVE),(1272.2,622.5,48,42.5,17.8,C_BLUE),(1362,622.8,42.9,53.8,-13.4,C_PLUM),(1342.6,695.8,75.1,74.2,8,C_GOLD)])
for t, x, y in venn_c_labels + venn_d_labels:
    ov.text(x, y+2, t, ha='center', va='center', fontsize=16, color='#111111', zorder=3)

# panel e
panels_e = [(188, 484, 316, z_panel1), (492.4, 789.6, 621.8, z_panel2), (798, 1094.6, 927, z_panel3), (1103.5, 1400, 1232, z_panel4)]
for l, r, x0, zs in panels_e:
    unit = 7.755
    st = box(l, 860, r, 885.3); st.set_facecolor('#dedede'); st.set_xticks([]); st.set_yticks([])
    for s in st.spines.values():
        s.set_color('#707070'); s.set_linewidth(1.1)
    ax = box(l, 885.3, r, 1270)
    ax.set_xlim((l-x0)/unit, (r-x0)/unit)
    n = len(reg_names)
    ax.set_ylim(n-1+.69, -.69)
    ax.set_xticks([-10, 0, 10, 20]); ax.set_xticks([-15, -5, 5, 15], minor=True)
    ax.set_xticklabels(['-10', '0', '10', '20'], fontsize=10.5, color='#4d4d4d')
    ax.set_yticks([])
    ax.tick_params(axis='x', which='major', length=3, color='#555555', pad=1)
    ax.tick_params(axis='x', which='minor', length=0)
    ax.grid(True, axis='x', which='major', color='#ebebeb', lw=.8)
    ax.grid(True, axis='x', which='minor', color='#f3f3f3', lw=.6)
    ax.set_axisbelow(True)
    for s in ax.spines.values():
        s.set_color('#707070'); s.set_linewidth(1.1)
    ys = [reg_names.index(k) for k in zs]
    vals = list(zs.values())
    ax.barh(ys, vals, height=.86, color=['#ee6f3e' if v > 0 else '#8db883' for v in vals], edgecolor='none', zorder=2)
    ax.axvline(0, color='black', lw=1.4, ls=(0, (3, 2.2)), zorder=3)
    for y, v, k in zip(ys, vals, zs):
        ax.text(v + (.25 if v > 0 else -.3), y+.2, k, ha='left' if v > 0 else 'right', va='center', fontsize=9.1, color='#111111', zorder=4)
ov.text(794, 1301, 'Activation Z score', ha='center', va='center', fontsize=16, color='#111111')

# panel f
axf = box(207, 1502, 767.5, 2046.7)
mat = np.array([enrich_gold, enrich_plum, enrich_blue, enrich_olive]).T
axf.pcolormesh(mat, cmap=hm_cmap, vmin=-3, vmax=3, edgecolors='#a3a3a3', linewidth=1.0)
axf.set_ylim(len(enrich_rows), 0); axf.axis('off')
axc = box(207, 1475, 767.5, 1495.5)
axc.pcolormesh(np.arange(4)[None, :], cmap=ListedColormap(enrich_classes), edgecolors='#a3a3a3', linewidth=1.0)
axc.axis('off')
axt = box(179.6, 1502, 200.7, 2046.7)
axt.pcolormesh(np.array(type_groups)[:, None], cmap=ListedColormap(type_colors), edgecolors='#a8a8a8', linewidth=.8)
axt.set_ylim(len(type_groups), 0); axt.axis('off')
for x1, y1, x2, y2 in dend_f:
    ov.plot([x1, x2], [y1, y2], color='#111111', lw=1.1, solid_capstyle='projecting')
for i, n in enumerate(enrich_rows):
    ov.text(773, 1504.5 + 30.26*(i+.5), n, ha='left', va='center', fontsize=15.3, color='#111111')
ov.text(773, 1488.5, 'Class', ha='left', va='center', fontsize=15, fontweight='bold', color='#111111')
ov.text(188, 2053, 'Type', rotation=270, ha='center', va='top', fontsize=14, fontweight='bold', color='#111111')
cf = box(1166.7, 1473, 1187, 1788.3)
cf.imshow(np.linspace(3.07, -3.03, 256)[:, None], cmap=hm_cmap, vmin=-3, vmax=3, aspect='auto')
cf.axis('off')
for v, lab in zip([3, 2, 1, 0, -1, -2, -3], ['3', '2', '1', '0', MINUS+'1', MINUS+'2', MINUS+'3']):
    ov.text(1195.4, 1633.5 - v*51.6, lab, ha='left', va='center', fontsize=13.5, color='#111111')

# panel letters
for t, x, y in [('a', 11, 15), ('b', 11, 434), ('c', 779, 425), ('d', 1191, 424), ('e', 10, 861), ('f', 8, 1364)]:
    ov.text(x, y, t, ha='center', va='center', fontsize=27, fontweight='bold', color='#0a0a0a')

ov.set_xlim(0, W); ov.set_ylim(H, 0)
fig.savefig('out.png', dpi=100)
